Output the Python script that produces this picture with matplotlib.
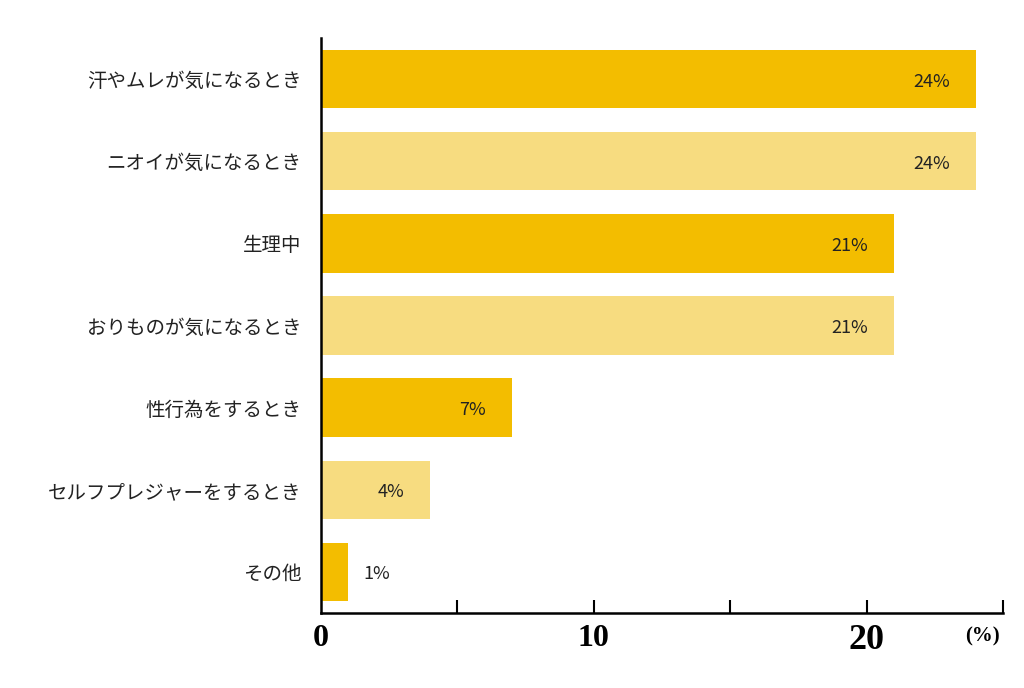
import matplotlib
matplotlib.use("Agg")
from matplotlib import pyplot as plt

plt.rcParams['font.family'] = ['Noto Sans CJK JP', 'DejaVu Sans']

# データ
categories = ["汗やムレが気になるとき", "ニオイが気になるとき", "生理中",
              "おりものが気になるとき", "性行為をするとき",
              "セルフプレジャーをするとき", "その他"]
values = [24, 24, 21, 21, 7, 4, 1]
colors = ["#F3BD00", "#F7DC80", "#F3BD00", "#F7DC80", "#F3BD00", "#F7DC80", "#F3BD00"]
tick_values = [0, 10, 20]
tick_sizes = [23, 23, 26]

fig = plt.figure(figsize=(10.24, 6.88), dpi=100)
ax = fig.add_axes([321 / 1024, 1 - 613 / 688, (1003 - 321) / 1024, (613 - 38) / 688])

pos = list(range(len(categories)))
ax.barh(pos, values, height=0.71, color=colors)

# バーのラベル
for y, v in zip(pos, values):
    if v >= 3:
        ax.text(v - 0.95, y + 0.03, f"{v}%", ha="right", va="center", fontsize=13, color="#222222")
    else:
        ax.text(v + 0.55, y + 0.03, f"{v}%", ha="left", va="center", fontsize=13, color="#222222")

ax.set_ylim(6.5, -0.5)
ax.set_xlim(0, 25)
ax.set_yticks(pos)
ax.set_yticklabels(categories, fontsize=14, color="#222222")
ax.tick_params(axis="y", length=0, pad=14)
ax.set_xticks([5, 10, 15, 20, 25])
ax.set_xticklabels([])
ax.tick_params(axis="x", direction="in", length=9.5, width=1.5)

for s in ["top", "right"]:
    ax.spines[s].set_visible(False)
ax.spines["left"].set_linewidth(1.8)
ax.spines["bottom"].set_linewidth(1.8)

# 目盛りラベル (セリフ体)
for t, fs in zip(tick_values, tick_sizes):
    ax.annotate(str(t), xy=(t, 0), xycoords=("data", "axes fraction"),
                xytext=(0, -8), textcoords="offset points", ha="center", va="top",
                fontsize=fs, fontweight="bold", family="Liberation Serif")
ax.annotate("(%)", xy=(24.26, 0), xycoords=("data", "axes fraction"),
            xytext=(0, -10), textcoords="offset points", ha="center", va="top",
            fontsize=15, fontweight="bold", family="Liberation Serif")

fig.savefig("out.png", dpi=100)
